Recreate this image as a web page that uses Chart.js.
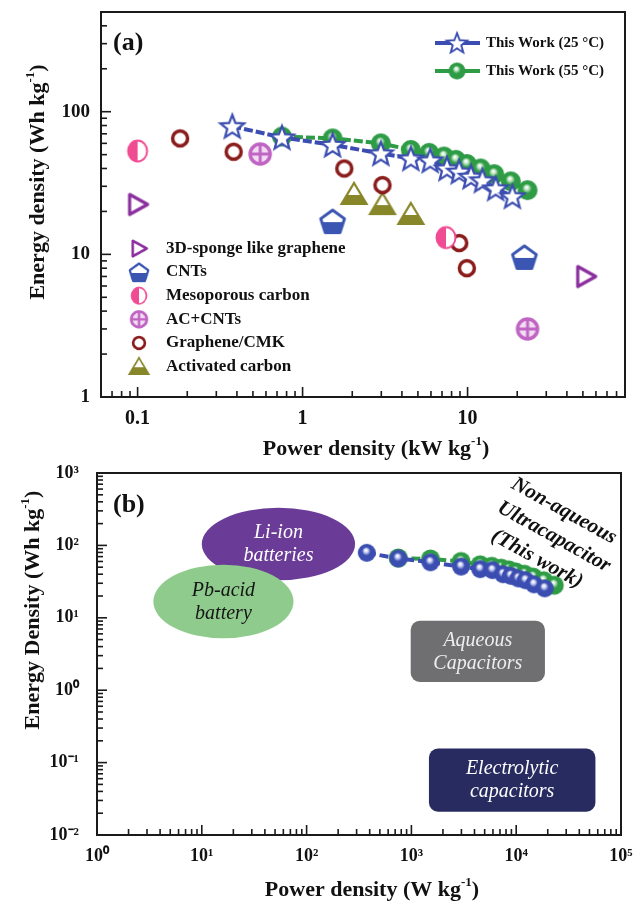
<!DOCTYPE html>
<html>
<head>
<meta charset="utf-8">
<script src="https://cdn.jsdelivr.net/npm/chart.js@4"></script>
<style>
  html, body { margin: 0; padding: 0; background: #fff; }
  #wrap { position: relative; width: 635px; height: 903px; }
  #chartA { position: absolute; left: 0; top: 0; width: 635px; height: 460px; }
  #chartB { position: absolute; left: 0; top: 460px; width: 635px; height: 443px; }
</style>
</head>
<body>
<div id="wrap">
  <canvas id="chartA" width="635" height="460"></canvas>
  <canvas id="chartB" width="635" height="443"></canvas>
</div>
<script>
// ---- (a) power density in kW/kg, energy density in Wh/kg ----
const power25 = [0.375, 0.75, 1.52, 2.98, 4.53, 5.94, 7.5, 8.9, 10.5, 12.3, 14.8, 18.7];
const energy25 = [79, 66, 58.5, 51, 47, 45.5, 40, 38, 35, 33, 29, 25.5];
const power55 = [0.75, 1.52, 2.98, 4.53, 5.85, 7.2, 8.5, 9.9, 12, 14.5, 18.3, 23.1];
const energy55 = [67, 65, 60, 54, 51.5, 48.5, 46, 43, 40, 36.5, 32.5, 28.2];

const spongePower = [0.1, 52];
const spongeEnergy = [22.4, 7];
const cntPower = [1.52, 22.1];
const cntEnergy = [17.1, 9.6];
const mesoPower = [0.1, 7.4];
const mesoEnergy = [53, 13.1];
const acCntPower = [0.553, 23.1];
const acCntEnergy = [50.5, 3.0];
const cmkPower = [0.181, 0.382, 1.79, 3.05, 8.9, 9.9];
const cmkEnergy = [65, 52.4, 40, 30.6, 12, 8];
const actPower = [2.05, 3.05, 4.53];
const actEnergy = [26.5, 22.5, 19.2];

const xTicksA = [0.1, 1, 10];
const xTickLabelsA = ['0.1', '1', '10'];
const yTicksA = [1, 10, 100];
const yTickLabelsA = ['1', '10', '100'];

// ---- (b) power density in W/kg, energy density in Wh/kg ----
const powerB25 = [375, 750, 1520, 2980, 4530, 5940, 7500, 8900, 10500, 12300, 14800, 18700];
const energyB25 = [79, 66, 58.5, 51, 47, 45.5, 40, 38, 35, 33, 29, 25.5];
const powerB55 = [750, 1520, 2980, 4530, 5850, 7200, 8500, 9900, 12000, 14500, 18300, 23100];
const energyB55 = [67, 65, 60, 54, 51.5, 48.5, 46, 43, 40, 36.5, 32.5, 28.2];

const liIonPower = [10, 290];
const liIonEnergy = [33, 330];
const pbAcidPower = [3.45, 75];
const pbAcidEnergy = [5.2, 54];
const aqueousPower = [985, 18800];
const aqueousEnergy = [1.3, 9.1];
const electroPower = [1470, 57000];
const electroEnergy = [0.021, 0.156];

const xTicksB = [1, 10, 100, 1000, 10000, 100000];
const xTickLabelsB = ['10⁰', '10¹', '10²', '10³', '10⁴', '10⁵'];
const yTicksB = [0.01, 0.1, 1, 10, 100, 1000];
const yTickLabelsB = ['10⁻²', '10⁻¹', '10⁰', '10¹', '10²', '10³'];

const FONT = "'Liberation Serif', 'Times New Roman', serif";
Chart.defaults.font.family = FONT;
Chart.defaults.color = '#111';

const BLUE = '#3B4DB0', GREEN = '#2E9B45', PURPLE = '#8B2F9E', CNT = '#3A56B2';
const PINK = '#F04C94', ACC = '#C065C4', DARKRED = '#8A1C1C', OLIVE = '#878629';

const pairs = (xs, ys) => xs.map((x, i) => ({ x, y: ys[i] }));

function mk(size, paint) {
  const c = document.createElement('canvas');
  c.width = size; c.height = size;
  paint(c.getContext('2d'), size / 2);
  return c;
}

function ball(g, c, r, color, light) {
  const grad = g.createRadialGradient(c - r * 0.1, c - r * 0.3, 0.5, c, c, r);
  grad.addColorStop(0, '#ffffff');
  grad.addColorStop(0.18, light);
  grad.addColorStop(0.45, color);
  grad.addColorStop(1, color);
  g.fillStyle = grad;
  g.beginPath(); g.arc(c, c, r, 0, Math.PI * 2); g.fill();
}

const starMark = mk(30, (g, c) => {
  g.beginPath();
  for (let i = 0; i < 10; i++) {
    const a = -Math.PI / 2 + i * Math.PI / 5;
    const r = i % 2 ? 5.3 : 12.5;
    g.lineTo(c + r * Math.cos(a), c + 1 + r * Math.sin(a));
  }
  g.closePath();
  g.fillStyle = '#fff'; g.fill();
  g.lineWidth = 2.2; g.strokeStyle = BLUE; g.stroke();
});
const greenBallA = mk(24, (g, c) => ball(g, c, 10, GREEN, '#bfe6c3'));
const blueBall = mk(22, (g, c) => ball(g, c, 9, BLUE, '#c9d0f5'));
const greenBallB = mk(22, (g, c) => ball(g, c, 9.5, GREEN, '#bfe6c3'));

const spongeMark = mk(26, (g, c) => {
  g.beginPath(); g.moveTo(c - 8, c - 10); g.lineTo(c + 10, c); g.lineTo(c - 8, c + 10); g.closePath();
  g.fillStyle = '#fff'; g.fill();
  g.lineWidth = 3.2; g.lineJoin = 'round'; g.strokeStyle = PURPLE; g.stroke();
});
const cntMark = mk(30, (g, c) => {
  const r = 12.5;
  g.beginPath();
  for (let i = 0; i < 5; i++) {
    const a = -Math.PI / 2 + i * 2 * Math.PI / 5;
    g.lineTo(c + r * Math.cos(a), c + 1.5 + r * Math.sin(a));
  }
  g.closePath();
  g.fillStyle = '#fff'; g.fill();
  g.save(); g.clip(); g.fillStyle = CNT; g.fillRect(0, c + 1, 30, 30); g.restore();
  g.lineWidth = 3; g.lineJoin = 'round'; g.strokeStyle = CNT; g.stroke();
});
const mesoMark = mk(26, (g, c) => {
  g.beginPath(); g.ellipse(c, c, 9.5, 10.5, 0, 0, Math.PI * 2);
  g.fillStyle = '#fff'; g.fill();
  g.beginPath(); g.ellipse(c, c, 9.5, 10.5, 0, Math.PI / 2, Math.PI * 1.5); g.closePath();
  g.fillStyle = PINK; g.fill();
  g.beginPath(); g.ellipse(c, c, 9.5, 10.5, 0, 0, Math.PI * 2);
  g.lineWidth = 2; g.strokeStyle = PINK; g.stroke();
});
const acCntMark = mk(28, (g, c) => {
  const r = 10;
  g.beginPath(); g.arc(c, c, r, 0, Math.PI * 2);
  g.fillStyle = '#F3DDF3'; g.fill();
  g.lineWidth = 3.5; g.strokeStyle = ACC; g.stroke();
  g.beginPath();
  g.moveTo(c - r, c); g.lineTo(c + r, c);
  g.moveTo(c, c - r); g.lineTo(c, c + r);
  g.lineWidth = 3; g.stroke();
});
const cmkMark = mk(24, (g, c) => {
  g.beginPath(); g.arc(c, c, 7.5, 0, Math.PI * 2);
  g.fillStyle = '#fff'; g.fill();
  g.lineWidth = 3.5; g.strokeStyle = DARKRED; g.stroke();
});
const actMark = mk(30, (g, c) => {
  g.beginPath(); g.moveTo(c, c - 11); g.lineTo(c + 12.5, c + 10); g.lineTo(c - 12.5, c + 10); g.closePath();
  g.fillStyle = '#fff'; g.fill();
  g.save(); g.clip(); g.fillStyle = OLIVE; g.fillRect(0, c + 1, 30, 30); g.restore();
  g.lineWidth = 2.2; g.strokeStyle = OLIVE; g.stroke();
});

// log tick marks 1..9 x 10^n between min and max
function logMarks(min, max) {
  const out = [];
  for (let e = Math.floor(Math.log10(min)); e <= Math.ceil(Math.log10(max)); e++) {
    for (let k = 1; k <= 9; k++) {
      const v = parseFloat((k * Math.pow(10, e)).toPrecision(6));
      if (v >= min * 0.999 && v <= max * 1.001) out.push(v);
    }
  }
  return out;
}
const isDecade = v => Math.abs(Math.log10(v) - Math.round(Math.log10(v))) < 1e-9;

const frameTicks = {
  id: 'frameTicks',
  afterDraw(chart) {
    const { ctx, chartArea: a, scales } = chart;
    ctx.save();
    ctx.strokeStyle = '#1a1a1a';
    ctx.lineWidth = 1.6;
    logMarks(scales.x.min, scales.x.max).forEach(v => {
      const p = scales.x.getPixelForValue(v);
      const len = isDecade(v) ? 10 : 6;
      ctx.beginPath(); ctx.moveTo(p, a.bottom); ctx.lineTo(p, a.bottom - len); ctx.stroke();
    });
    logMarks(scales.y.min, scales.y.max).forEach(v => {
      const p = scales.y.getPixelForValue(v);
      const len = isDecade(v) ? 10 : 6;
      ctx.beginPath(); ctx.moveTo(a.left, p); ctx.lineTo(a.left + len, p); ctx.stroke();
    });
    ctx.lineWidth = 2;
    ctx.strokeRect(a.left, a.top, a.right - a.left, a.bottom - a.top);
    ctx.restore();
  }
};

// text with a small raised "-1"
function richTitle(ctx, before, sup, after, x, y, size, vertical) {
  ctx.save();
  ctx.translate(x, y);
  if (vertical) ctx.rotate(-Math.PI / 2);
  const main = `bold ${size}px ${FONT}`, small = `bold ${Math.round(size * 0.6)}px ${FONT}`;
  ctx.font = main; const w1 = ctx.measureText(before).width, w3 = ctx.measureText(after).width;
  ctx.font = small; const w2 = ctx.measureText(sup).width;
  let cx = -(w1 + w2 + w3) / 2;
  ctx.textBaseline = 'alphabetic'; ctx.textAlign = 'left'; ctx.fillStyle = '#111';
  const base = size * 0.35;
  ctx.font = main; ctx.fillText(before, cx, base); cx += w1;
  ctx.font = small; ctx.fillText(sup, cx, base - size * 0.42); cx += w2;
  ctx.font = main; ctx.fillText(after, cx, base);
  ctx.restore();
}

const decorA = {
  id: 'decorA',
  afterDraw(chart) {
    const { ctx } = chart;
    ctx.save();
    ctx.fillStyle = '#111';
    ctx.font = `bold 26px ${FONT}`;
    ctx.textBaseline = 'middle';
    ctx.fillText('(a)', 113, 43);
    richTitle(ctx, 'Energy density (Wh kg', '-1', ')', 36, 182, 22, true);
    richTitle(ctx, 'Power density (kW kg', '-1', ')', 376, 447, 22, false);

    // top-right legend
    [[starMark, BLUE, 'This Work (25 °C)', 43], [greenBallA, GREEN, 'This Work (55 °C)', 71]].forEach(([m, col, txt, y]) => {
      ctx.strokeStyle = col; ctx.lineWidth = 4;
      ctx.beginPath(); ctx.moveTo(435, y); ctx.lineTo(480, y); ctx.stroke();
      const s = m.width * 0.85;
      ctx.drawImage(m, 457 - s / 2, y - s / 2, s, s);
      ctx.font = `bold 15px ${FONT}`; ctx.fillStyle = '#111'; ctx.textBaseline = 'middle';
      ctx.fillText(txt, 486, y);
    });

    // lower-left legend
    const items = [
      [spongeMark, '3D-sponge like graphene'],
      [cntMark, 'CNTs'],
      [mesoMark, 'Mesoporous carbon'],
      [acCntMark, 'AC+CNTs'],
      [cmkMark, 'Graphene/CMK'],
      [actMark, 'Activated carbon']
    ];
    items.forEach(([m, txt], i) => {
      const y = 248.5 + i * 23.6;
      const s = m.width * 0.78;
      ctx.drawImage(m, 139 - s / 2, y - s / 2, s, s);
      ctx.font = `bold 17px ${FONT}`; ctx.fillStyle = '#111'; ctx.textBaseline = 'middle';
      ctx.fillText(txt, 166, y);
    });
    ctx.restore();
  }
};

function logScale(min, max, ticks, labels, size, fitProp, fitVal, pad) {
  return {
    type: 'logarithmic', min, max,
    afterBuildTicks: s => { s.ticks = ticks.map(v => ({ value: v })); },
    afterFit: s => {
      s[fitProp] = fitVal;
      s.paddingLeft = 0; s.paddingRight = 0; s.paddingTop = 0; s.paddingBottom = 0;
    },
    grid: { display: false, drawTicks: false },
    border: { display: false },
    ticks: {
      autoSkip: false, maxRotation: 0, padding: pad, color: '#111',
      font: { family: FONT, size, weight: 'bold' },
      callback: (v, i) => labels[i]
    }
  };
}

new Chart(document.getElementById('chartA'), {
  type: 'scatter',
  data: {
    datasets: [
      { data: pairs(power25, energy25), showLine: true, borderColor: BLUE, borderWidth: 4, borderDash: [9, 3], pointStyle: starMark },
      { data: pairs(power55, energy55), showLine: true, borderColor: GREEN, borderWidth: 4, borderDash: [9, 3], pointStyle: greenBallA },
      { data: pairs(spongePower, spongeEnergy), pointStyle: spongeMark },
      { data: pairs(cntPower, cntEnergy), pointStyle: cntMark },
      { data: pairs(mesoPower, mesoEnergy), pointStyle: mesoMark },
      { data: pairs(acCntPower, acCntEnergy), pointStyle: acCntMark },
      { data: pairs(cmkPower, cmkEnergy), pointStyle: cmkMark },
      { data: pairs(actPower, actEnergy), pointStyle: actMark }
    ]
  },
  options: {
    responsive: false, animation: false, events: [],
    layout: { padding: { top: 12, right: 10, left: 0, bottom: 0 } },
    plugins: { legend: { display: false }, tooltip: { enabled: false } },
    scales: {
      x: logScale(0.06, 90, xTicksA, xTickLabelsA, 20, 'height', 63, 10),
      y: logScale(1, 500, yTicksA, yTickLabelsA, 19, 'width', 101, 11)
    }
  },
  plugins: [frameTicks, decorA]
});

const regionsB = {
  id: 'regionsB',
  beforeDatasetsDraw(chart) {
    const { ctx, scales: { x, y } } = chart;
    const box = (p, e) => ({
      l: x.getPixelForValue(p[0]), r: x.getPixelForValue(p[1]),
      t: y.getPixelForValue(e[1]), b: y.getPixelForValue(e[0])
    });
    const label = (lines, b, color) => {
      ctx.fillStyle = color; ctx.font = `italic 20px ${FONT}`;
      ctx.textAlign = 'center'; ctx.textBaseline = 'middle';
      const cx = (b.l + b.r) / 2, cy = (b.t + b.b) / 2;
      ctx.fillText(lines[0], cx, cy - 11);
      ctx.fillText(lines[1], cx, cy + 12);
    };
    const ellipse = (b, color) => {
      ctx.fillStyle = color; ctx.beginPath();
      ctx.ellipse((b.l + b.r) / 2, (b.t + b.b) / 2, (b.r - b.l) / 2, (b.b - b.t) / 2, 0, 0, Math.PI * 2);
      ctx.fill();
    };
    const rounded = (b, color) => {
      ctx.fillStyle = color; ctx.beginPath();
      ctx.roundRect(b.l, b.t, b.r - b.l, b.b - b.t, 9); ctx.fill();
    };
    ctx.save();
    const li = box(liIonPower, liIonEnergy);
    ellipse(li, '#6A3C98'); label(['Li-ion', 'batteries'], li, '#ffffff');
    const pb = box(pbAcidPower, pbAcidEnergy);
    ellipse(pb, '#8FCB8C'); label(['Pb-acid', 'battery'], pb, '#151515');
    const aq = box(aqueousPower, aqueousEnergy);
    rounded(aq, '#6F6E70'); label(['Aqueous', 'Capacitors'], aq, '#EEEEEE');
    const el = box(electroPower, electroEnergy);
    rounded(el, '#272B60'); label(['Electrolytic', 'capacitors'], el, '#ffffff');
    ctx.restore();
  }
};

const decorB = {
  id: 'decorB',
  afterDraw(chart) {
    const { ctx } = chart;
    ctx.save();
    ctx.fillStyle = '#111';
    ctx.font = `bold 26px ${FONT}`;
    ctx.textBaseline = 'middle';
    ctx.fillText('(b)', 113, 45);
    richTitle(ctx, 'Energy Density (Wh kg', '-1', ')', 31, 150, 22, true);
    richTitle(ctx, 'Power density (W kg', '-1', ')', 372, 428, 22, false);
    ctx.font = `italic bold 21px ${FONT}`;
    ctx.textAlign = 'center';
    [['Non-aqueous', 564, 51], ['Ultracapacitor', 554, 77], ['(This work)', 537, 99]].forEach(([t, x, y]) => {
      ctx.save(); ctx.translate(x, y); ctx.rotate(29 * Math.PI / 180);
      ctx.fillText(t, 0, 0); ctx.restore();
    });
    ctx.restore();
  }
};

new Chart(document.getElementById('chartB'), {
  type: 'scatter',
  data: {
    datasets: [
      { data: pairs(powerB25, energyB25), showLine: true, borderColor: BLUE, borderWidth: 4, borderDash: [9, 4], pointStyle: blueBall },
      { data: pairs(powerB55, energyB55), showLine: true, borderColor: GREEN, borderWidth: 4, borderDash: [9, 4], pointStyle: greenBallB }
    ]
  },
  options: {
    responsive: false, animation: false, events: [],
    layout: { padding: { top: 13, right: 14, left: 0, bottom: 0 } },
    plugins: { legend: { display: false }, tooltip: { enabled: false } },
    scales: {
      x: logScale(1, 100000, xTicksB, xTickLabelsB, 18, 'height', 68, 11),
      y: logScale(0.01, 1000, yTicksB, yTickLabelsB, 18, 'width', 97, 18)
    }
  },
  plugins: [regionsB, frameTicks, decorB]
});
</script>
</body>
</html>
